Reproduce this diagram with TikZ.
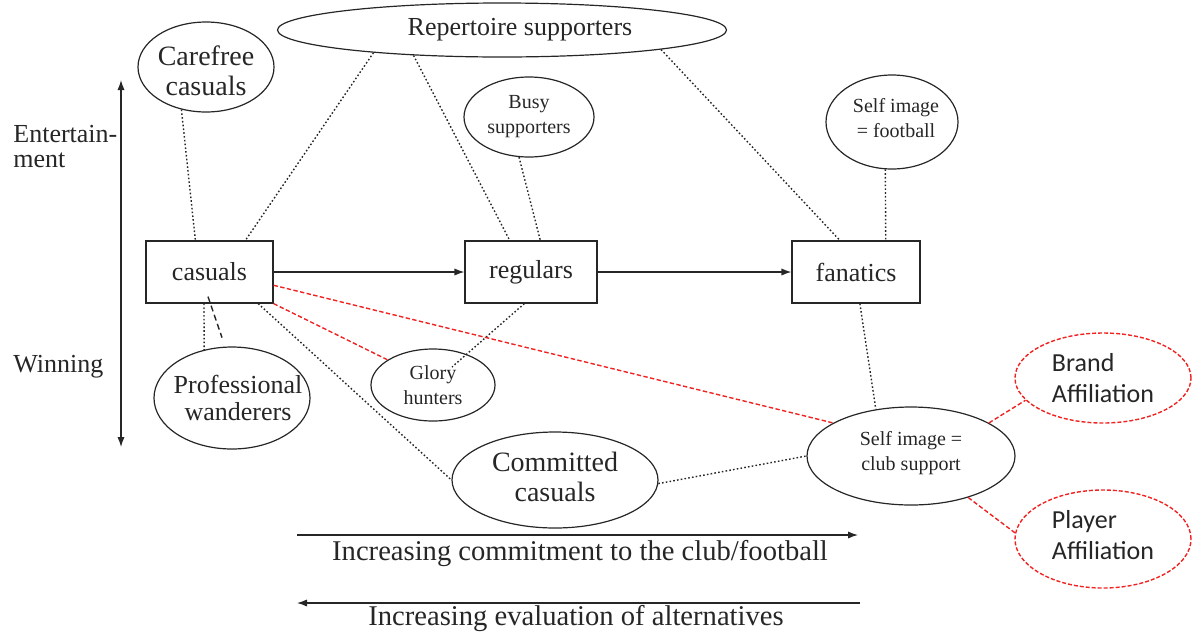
\documentclass[tikz,border=0pt]{standalone}
\usepackage{fontspec}
\setmainfont{Liberation Serif}
\newfontfamily\calfont{Carlito}
\usetikzlibrary{arrows.meta,shapes.geometric,calc}
\definecolor{ink}{gray}{0.15}
\definecolor{rline}{RGB}{240,35,35}

\begin{document}
\begin{tikzpicture}[x=0.5pt,y=-0.5pt,
  every node/.style={text=ink},
  ftx/.style={font=\fontsize{13}{13.5}\selectfont},
  faxis/.style={font=\fontsize{14.3}{15}\selectfont},
  fbig/.style={font=\fontsize{14}{15}\selectfont},
  fsmall/.style={font=\fontsize{10}{12.5}\selectfont},
  fcal/.style={font=\calfont\fontsize{13}{15.5}\selectfont},
  oval/.style={draw=ink, ellipse, inner sep=0pt, line width=0.6pt},
  redoval/.style={draw=rline, ellipse, inner sep=0pt, line width=0.7pt, dash pattern=on 2pt off 1pt},
  stage/.style={draw=ink, rectangle, inner sep=0pt, line width=0.6pt, minimum height=31pt, ftx},
  link/.style={draw=ink, line width=0.7pt, dash pattern=on 0.8pt off 1.1pt},
  redlink/.style={draw=rline, line width=0.7pt, dash pattern=on 2.2pt off 1.2pt},
  flow/.style={draw=ink, line width=0.6pt, -{Latex[length=5pt,width=3.6pt]}},
]
\useasboundingbox (0,0) rectangle (1192,633);

% ---- support groups (ellipses) ----
\node[oval, minimum width=224.5pt, minimum height=27pt,
  label={[ftx, xshift=9pt]center:Repertoire supporters}] (rep) at (502,30) {};
\node[oval, minimum width=68pt, minimum height=45pt,
  label={[fbig, align=center, yshift=-2pt]center:Carefree\\casuals}] (carefree) at (206,67) {};
\node[oval, minimum width=65pt, minimum height=40pt,
  label={[fsmall, align=center]center:Busy\\supporters}] (busy) at (529,117) {};
\node[oval, minimum width=66pt, minimum height=47pt,
  label={[fsmall, align=center, yshift=2pt, xshift=2pt]center:Self image\\= football}] (selffb) at (892,122) {};
\node[oval, minimum width=78pt, minimum height=51pt,
  label={[ftx, align=center, xshift=3pt]center:Professional\\wanderers}] (prof) at (232,398) {};
\node[oval, minimum width=62pt, minimum height=36pt,
  label={[fsmall, align=center]center:Glory\\hunters}] (glory) at (433,385) {};
\node[oval, minimum width=103pt, minimum height=48pt,
  label={[fbig, align=center, yshift=1.5pt]center:Committed\\casuals}] (committed) at (555,480) {};
\node[oval, minimum width=104pt, minimum height=49pt,
  label={[fsmall, align=center, yshift=1.5pt]center:Self image =\\club support}] (club) at (911,456) {};
\node[redoval, minimum width=88pt, minimum height=45pt,
  label={[fcal, align=left]center:Brand\\Affiliation}] (brand) at (1103,378) {};
\node[redoval, minimum width=88pt, minimum height=49pt,
  label={[fcal, align=left, yshift=2pt]center:Player\\Affiliation}] (player) at (1103,539) {};

% ---- the three stages ----
\node[stage, minimum width=63.5pt] (casuals) at (209.5,272) {casuals};
\node[stage, minimum width=66pt] (regulars) at (531,272) {regulars};
\node[stage, minimum width=64pt] (fanatics) at (856,272) {fanatics};

\draw[flow] (casuals) -- (regulars);
\draw[flow] (regulars) -- (fanatics);

% ---- dotted associations ----
\draw[link] (carefree.240) -- ($(casuals.north west)!0.39!(casuals.north east)$);
\draw[link] (rep.190) -- ($(casuals.north west)!0.78!(casuals.north east)$);
\draw[link] (rep.196) -- ($(regulars.north west)!0.34!(regulars.north east)$);
\draw[link] (rep.353) -- ($(fanatics.north west)!0.375!(fanatics.north east)$);
\draw[link] (busy.256) -- ($(regulars.north west)!0.57!(regulars.north east)$);
\draw[link] (selffb.262) -- ($(fanatics.north west)!0.73!(fanatics.north east)$);
\draw[link] ($(casuals.south west)!0.457!(casuals.south east)$) -- (prof.120);
\draw[link] ($(casuals.south west)!0.88!(casuals.south east)$) -- (committed.west);
\draw[link] ($(regulars.south west)!0.45!(regulars.south east)$) -- ($(glory.center)+(19,-18)$);
\draw[link] (committed.358) -- (club.west);
\draw[link] ($(fanatics.south west)!0.53!(fanatics.south east)$) -- (club.127);

% short dashed stroke below the casuals box
\coordinate (dashA) at ($(casuals.south)+(-1.5,-7)$);
\coordinate (dashB) at ($(casuals.south)+(12.5,34)$);
\draw[draw=ink, line width=0.7pt, dash pattern=on 3pt off 1.8pt] (dashA) -- (dashB);

% ---- red dashed associations ----
\draw[redlink] ($(casuals.north east)!0.71!(casuals.south east)$) -- (club.157);
\draw[redlink] (casuals.south east) -- (glory.151);
\draw[redlink] (club.23) -- (brand.196);
\draw[redlink] (club.324) -- (player.176);

% ---- vertical axis ----
\coordinate (axTop) at (121,80);
\coordinate (axBot) at (121,447);
\draw[draw=ink, line width=0.6pt, {Latex[length=5pt,width=3.6pt]}-{Latex[length=5pt,width=3.6pt]}] (axTop) -- (axBot);
\node[ftx, anchor=base west, inner sep=0pt] (ent1) at (13,142) {Entertain-};
\node[ftx, anchor=base west, inner sep=0pt] (ent2) at (13,167) {ment};
\node[ftx, anchor=base west, inner sep=0pt] (win) at (13,372) {Winning};

% ---- horizontal axes ----
\coordinate (comL) at (297,535);
\coordinate (comR) at (858,535);
\draw[flow] (comL) -- (comR);
\node[faxis, inner sep=0pt] (comText) at (580,554) {Increasing commitment to the club/football};
\coordinate (altR) at (860,603);
\coordinate (altL) at (297,603);
\draw[flow] (altR) -- (altL);
\node[faxis, inner sep=0pt] (altText) at (576,619) {Increasing evaluation of alternatives};
\end{tikzpicture}
\end{document}
